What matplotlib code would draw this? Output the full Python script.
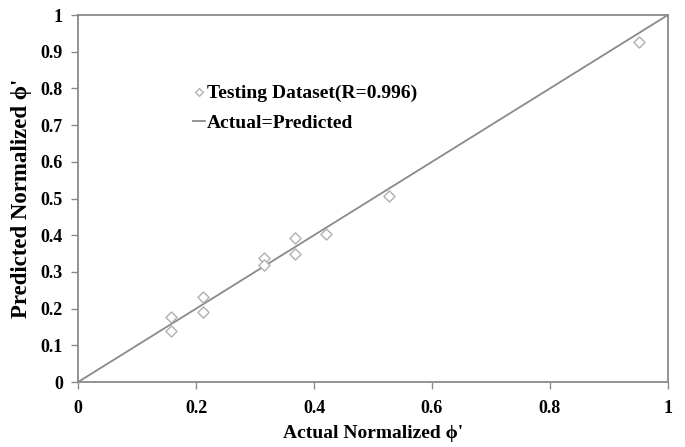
import matplotlib
matplotlib.use("Agg")
import matplotlib.pyplot as plt
import numpy as np

actual = [0.158, 0.158, 0.211, 0.211, 0.316, 0.316, 0.368, 0.368, 0.420, 0.527, 0.951]
predicted = [0.178, 0.139, 0.232, 0.191, 0.338, 0.318, 0.350, 0.392, 0.403, 0.507, 0.926]
line_x = [0, 1]
line_y = [0, 1]
xticks = [0, 0.2, 0.4, 0.6, 0.8, 1]
yticks = [0, 0.1, 0.2, 0.3, 0.4, 0.5, 0.6, 0.7, 0.8, 0.9, 1]
xticklabels = ['0', '0.2', '0.4', '0.6', '0.8', '1']
yticklabels = ['0', '0.1', '0.2', '0.3', '0.4', '0.5', '0.6', '0.7', '0.8', '0.9', '1']

plt.rcParams['font.family'] = ['Liberation Serif', 'DejaVu Serif']
plt.rcParams['font.weight'] = 'bold'

fig = plt.figure(figsize=(6.85, 4.47), dpi=100)
ax = fig.add_axes([0.114, 0.1454, 0.861, 0.821])

ax.scatter(actual, predicted, marker='D', s=32, facecolors='white', edgecolors='#b0b0b0',
           linewidths=1.0, label='Testing Dataset(R=0.996)', zorder=3)
ax.plot(line_x, line_y, color='#8a8a8a', lw=1.3, label='Actual=Predicted', zorder=2)

ax.set_xlim(0, 1)
ax.set_ylim(0, 1)
ax.set_xticks(xticks)
ax.set_yticks(yticks)
ax.set_xticklabels(xticklabels)
ax.set_yticklabels(yticklabels)
ax.tick_params(direction='out', length=5, width=1, color='#8a8a8a', labelsize=13)
ax.tick_params(axis='y', pad=6)
ax.tick_params(axis='x', pad=8)
for lab in ax.get_xticklabels() + ax.get_yticklabels():
    lab.set_fontweight('bold')
for sp in ax.spines.values():
    sp.set_color('#8a8a8a')
    sp.set_linewidth(1.3)

ax.set_xlabel("Actual Normalized \u03d5'", fontsize=14, fontweight='bold', labelpad=6)
ax.set_ylabel("Predicted Normalized \u03d5'", fontsize=16.5, fontweight='bold', labelpad=6)

leg = ax.legend(loc='upper left', bbox_to_anchor=(0.165, 0.86), frameon=False,
                prop={'family': 'Liberation Serif', 'weight': 'bold', 'size': 14},
                handlelength=0.6, handletextpad=0.1, labelspacing=0.65, markerscale=0.7)

fig.savefig('out.png', dpi=100)
